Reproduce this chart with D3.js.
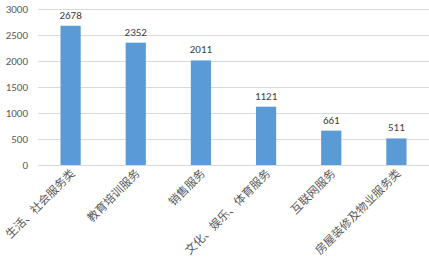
<!DOCTYPE html>
<html>
<head>
<meta charset="utf-8">
<script src="https://d3js.org/d3.v7.min.js"></script>
<style>
  body { margin: 0; background: #fff; }
  svg { display: block; }
</style>
</head>
<body>
<svg id="chart" width="429" height="261"></svg>
<script>
// chart data
const categories = ["生活、社会服务类", "教育培训服务", "销售服务", "文化、娱乐、体育服务", "互联网服务", "房屋装修及物业服务类"];
const counts = [2678, 2352, 2011, 1121, 661, 511];
const yTicks = [0, 500, 1000, 1500, 2000, 2500, 3000];

const svg = d3.select("#chart");
const plotLeft = 38, plotRight = 429, plotTop = 9, plotBottom = 165;

const x = d3.scaleBand().domain(categories).range([plotLeft, plotRight]).paddingInner(0.69).paddingOuter(0.345);
const y = d3.scaleLinear().domain([0, 3000]).range([plotBottom, plotTop]);

// gridlines
svg.append("g")
  .selectAll("line")
  .data(yTicks)
  .enter().append("line")
  .attr("x1", plotLeft).attr("x2", plotRight)
  .attr("y1", d => y(d) + 0.5).attr("y2", d => y(d) + 0.5)
  .style("stroke", "#d9d9d9")
  .style("stroke-width", 1);

// y tick labels
svg.append("g")
  .selectAll("text")
  .data(yTicks)
  .enter().append("text")
  .attr("x", 28)
  .attr("y", d => y(d) + 4)
  .attr("text-anchor", "end")
  .style("font-family", "Calibri, 'Liberation Sans', sans-serif")
  .style("font-size", "11px")
  .style("fill", "#595959")
  .text(d => d);

// bars
svg.append("g")
  .selectAll("rect")
  .data(counts)
  .enter().append("rect")
  .attr("x", (d, i) => x(categories[i]))
  .attr("width", x.bandwidth())
  .attr("y", d => y(d))
  .attr("height", d => plotBottom - y(d))
  .style("fill", "#5b9bd5");

// value labels
svg.append("g")
  .selectAll("text")
  .data(counts)
  .enter().append("text")
  .attr("x", (d, i) => x(categories[i]) + x.bandwidth() / 2)
  .attr("y", d => y(d) - 7)
  .attr("text-anchor", "middle")
  .style("font-family", "Calibri, 'Liberation Sans', sans-serif")
  .style("font-size", "11px")
  .style("fill", "#404040")
  .text(d => d);

// category labels, rotated
svg.append("g")
  .selectAll("text")
  .data(categories)
  .enter().append("text")
  .attr("transform", d => "translate(" + (x(d) + x.bandwidth() / 2 + 5) + ",174) rotate(-45)")
  .attr("text-anchor", "end")
  .style("font-family", "'Noto Sans CJK SC', sans-serif")
  .style("font-size", "11.5px")
  .style("fill", "#595959")
  .text(d => d);
</script>
</body>
</html>
